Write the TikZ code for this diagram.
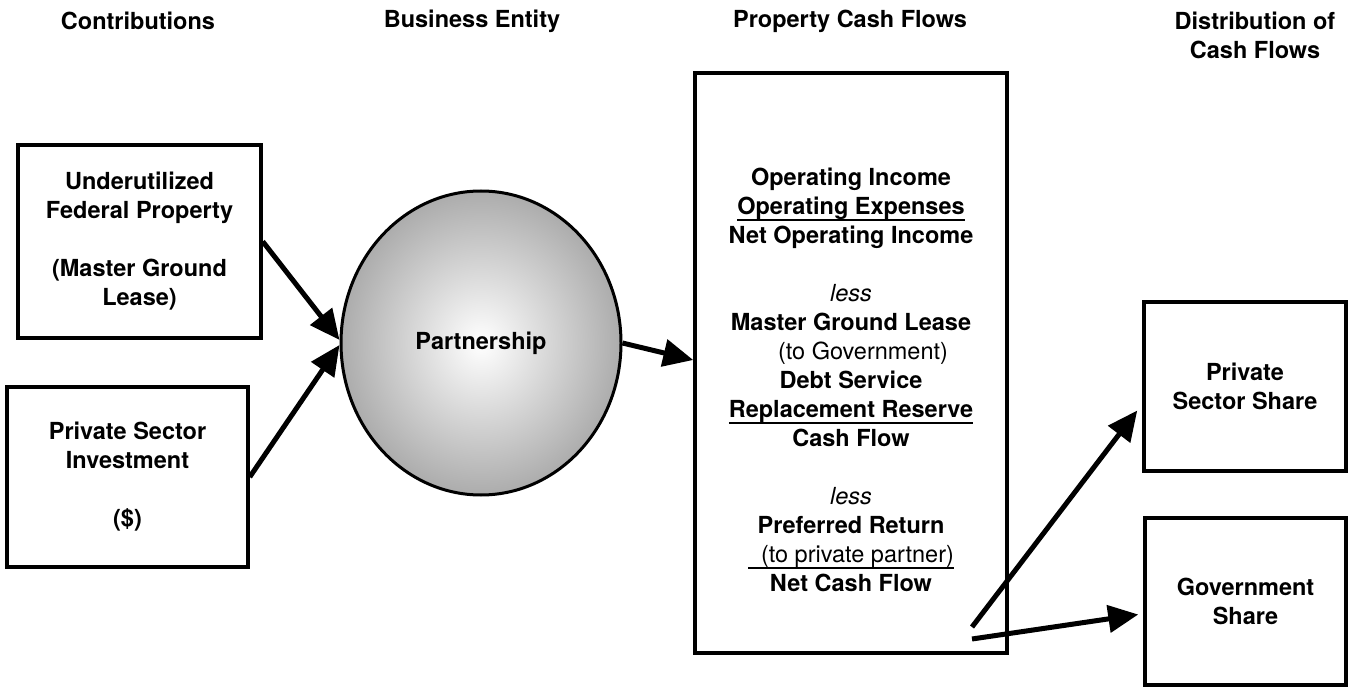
\documentclass[tikz,border=0pt]{standalone}
\usepackage{fontspec}
\setmainfont{TeX Gyre Heros}
\usetikzlibrary{arrows.meta,shapes.geometric}
\definecolor{edgegray}{RGB}{172,172,172}
\newcommand\bodyfont{\fontsize{23.5}{29}\selectfont\bfseries}
\newcommand\myul[1]{\leavevmode\setbox0=\hbox{#1}\rlap{\rule[-6pt]{\wd0}{2pt}}\box0}
\begin{document}
\begin{tikzpicture}[x=1pt,y=-1pt,
  box/.style={draw, line width=3.5pt, inner sep=0pt, align=center, font=\bodyfont},
  hdr/.style={font=\bodyfont, align=center, inner sep=0pt},
  arr/.style={line width=5pt, -{Triangle[length=30pt,width=27pt]}}]
\useasboundingbox (0,0) rectangle (1350,687);
% headers
\node[hdr] (h1) at (138,21) {Contributions};
\node[hdr] (h2) at (472,21) {Business Entity};
\node[hdr] (h3) at (850,21) {Property Cash Flows};
\node[hdr] (h4) at (1255,35) {Distribution of\\Cash Flows};
% left boxes
\node[box, minimum width=243pt, minimum height=193pt] (fed) at (139.5,241.5)
  {Underutilized\\Federal Property\\[29pt](Master Ground\\Lease)};
\node[box, minimum width=241pt, minimum height=180pt] (priv) at (127.5,477)
  {Private Sector\\Investment\\[29pt](\$)};
% partnership
\node[ellipse, draw, line width=3pt, minimum width=280pt, minimum height=304pt,
  inner sep=0pt, inner color=white, outer color=edgegray, font=\bodyfont] (part) at (481,343) {Partnership};
% property cash flows box
\node[draw, line width=3.5pt, minimum width=312pt, minimum height=580pt, inner sep=0pt] (pcf) at (851,363) {};
\node[font=\bodyfont, align=center, inner sep=0pt] (pcft) at (851,380)
  {Operating Income\\
   \myul{Operating Expenses}\\
   Net Operating Income\\[29pt]
   {\mdseries\itshape less}\\
   Master Ground Lease\\
   {\mdseries\hspace*{24pt}(to Government)}\\
   Debt Service\\
   \myul{Replacement Reserve}\\
   Cash Flow\\[29pt]
   {\mdseries\itshape less}\\
   Preferred Return\\
   {\mdseries\myul{\hspace*{13pt}(to private partner)}}\\
   Net Cash Flow};
% distribution boxes
\node[box, minimum width=202pt, minimum height=169pt] (psh) at (1245,386.5) {Private\\Sector Share};
\node[box, minimum width=201pt, minimum height=167pt] (gsh) at (1245.5,601.5) {Government\\Share};
% arrows
\draw[arr] (fed.east) -- ([yshift=3pt]part.west);
\draw[arr] (priv.east) -- ([yshift=-2pt]part.west);
\draw[arr] (part.east) -- ([yshift=3pt]pcf.west);
\coordinate (s1) at (972,627);
\coordinate (s2) at (972,639);
\draw[arr] (s1) -- ([xshift=-5pt,yshift=-24pt]psh.west);
\draw[arr] (s2) -- ([xshift=-5pt,yshift=-13pt]gsh.west);
\end{tikzpicture}
\end{document}
